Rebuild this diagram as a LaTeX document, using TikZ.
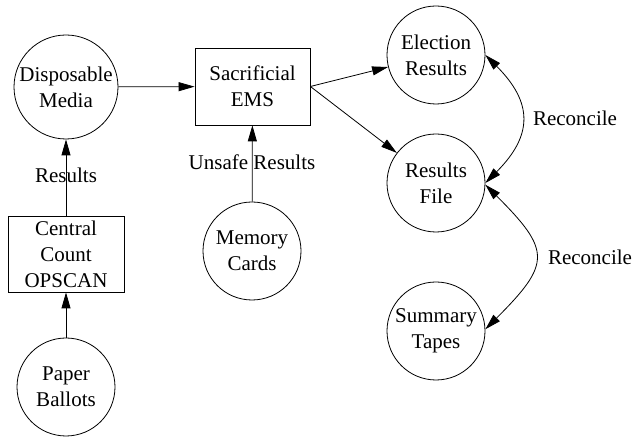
\documentclass[tikz,border=0pt]{standalone}
\usepackage{fontspec}
\setmainfont{Liberation Serif}
\usetikzlibrary{arrows.meta}
\begin{document}
\begin{tikzpicture}[x=1pt,y=1pt,
  every node/.style={font=\fontsize{21}{26}\selectfont, align=center, inner sep=0pt},
  circ/.style={draw, circle, minimum size=98pt, line width=0.8pt},
  boxn/.style={draw, rectangle, line width=0.8pt},
  conn/.style={line width=0.8pt, -{Triangle[length=16pt,width=9pt]}},
  biconn/.style={line width=0.8pt, {Triangle[length=16pt,width=9pt]}-{Triangle[length=16pt,width=9pt]}},
  lbl/.style={fill=none}]
\useasboundingbox (0,0) rectangle (633,438);
\node[circ, minimum size=104pt] (dm) at (66,351) {Disposable\\Media};
\node[boxn, minimum width=115pt, minimum height=77pt] (ems) at (252.5,351.5) {Sacrificial\\EMS};
\node[circ] (er) at (436,383) {Election\\Results};
\node[circ] (rf) at (436,255) {Results\\File};
\node[circ] (st) at (436,107) {Summary\\Tapes};
\node[boxn, minimum width=116pt, minimum height=76pt] (cc) at (66,184) {Central\\Count\\OPSCAN};
\node[circ] (pb) at (66,51) {Paper\\Ballots};
\node[circ] (mc) at (252,187) {Memory\\Cards};
\node[lbl] (l1) at (66,263) {Results};
\node[lbl] (l2) at (252,276) {Unsafe Results};
\node[lbl] (l3) at (575,320) {Reconcile};
\node[lbl] (l4) at (590,181) {Reconcile};
\draw[conn] (dm) -- (ems);
\draw[conn] (ems.east) -- (er);
\draw[conn] (ems.east) -- (rf);
\draw[conn] (mc) -- (ems);
\draw[conn] (cc) -- (dm);
\draw[conn] (pb) -- (cc);
\draw[biconn] (er.0) to[out=-45,in=45,looseness=1.35] (rf.0);
\draw[biconn] (rf.-2) to[out=-45,in=45,looseness=1.65] (st.2);
\end{tikzpicture}
\end{document}
